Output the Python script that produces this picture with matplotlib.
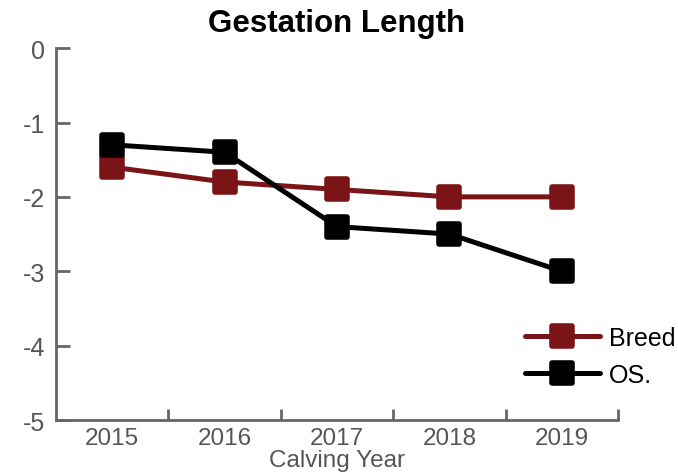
import matplotlib as mpl
import matplotlib.pyplot as plt
from matplotlib.markers import MarkerStyle

years = ["2015", "2016", "2017", "2018", "2019"]
breed = [-1.6, -1.8, -1.9, -2.0, -2.0]
os_vals = [-1.3, -1.4, -2.4, -2.5, -3.0]
y_ticks = [0, -1, -2, -3, -4, -5]

BREED_COLOR = "#7a1416"
OS_COLOR = "black"
AXIS_COLOR = "#666666"
TEXT_GRAY = "#555555"

mpl.rcParams.update({
    "font.family": ["Liberation Sans", "DejaVu Sans"],
    "font.size": 18,
})

fig = plt.figure(figsize=(6.78, 4.77), dpi=100)
ax = fig.add_axes([0.0826, 0.1174, 0.9115 - 0.0826, 0.897 - 0.1174])

x = range(1, len(years) + 1)
marker = MarkerStyle("s", joinstyle="round")
for vals, color, label in [(breed, BREED_COLOR, "Breed"), (os_vals, OS_COLOR, "OS.")]:
    ax.plot(x, vals, color=color, lw=3.6, marker=marker, ms=14.5, mew=4,
            mec=color, mfc=color, solid_capstyle="round", label=label)

ax.set_xlim(0.5, len(years) + 0.5)
ax.set_ylim(-5, 0)
ax.set_yticks(y_ticks)
ax.set_yticklabels([str(v) for v in y_ticks])

# boundary ticks between categories, labels centred on categories
ax.set_xticks([i + 0.5 for i in x])
ax.set_xticklabels([])
ax.set_xticks(list(x), minor=True)
ax.set_xticklabels(years, minor=True)
ax.tick_params(axis="x", which="minor", length=0, pad=5, labelcolor=TEXT_GRAY, labelsize=17.5)
ax.tick_params(axis="x", which="major", direction="in", length=8, width=2, color=AXIS_COLOR)
ax.tick_params(axis="y", direction="in", length=10, width=2, color=AXIS_COLOR,
               labelcolor=TEXT_GRAY, pad=8)

for side in ["top", "right"]:
    ax.spines[side].set_visible(False)
for side in ["left", "bottom"]:
    ax.spines[side].set_color(AXIS_COLOR)
    ax.spines[side].set_linewidth(2)

ax.set_xlabel("Calving Year", color=TEXT_GRAY, fontsize=17.5, labelpad=0)
ax.set_title("Gestation Length", fontsize=22.5, fontweight="bold", pad=12)

ax.legend(loc="upper left", bbox_to_anchor=(0.774, 0.314), bbox_transform=fig.transFigure,
          frameon=False, handlelength=3.0, handletextpad=0.35, labelspacing=0.5,
          borderpad=0, borderaxespad=0)

fig.savefig("out.png", dpi=100)
